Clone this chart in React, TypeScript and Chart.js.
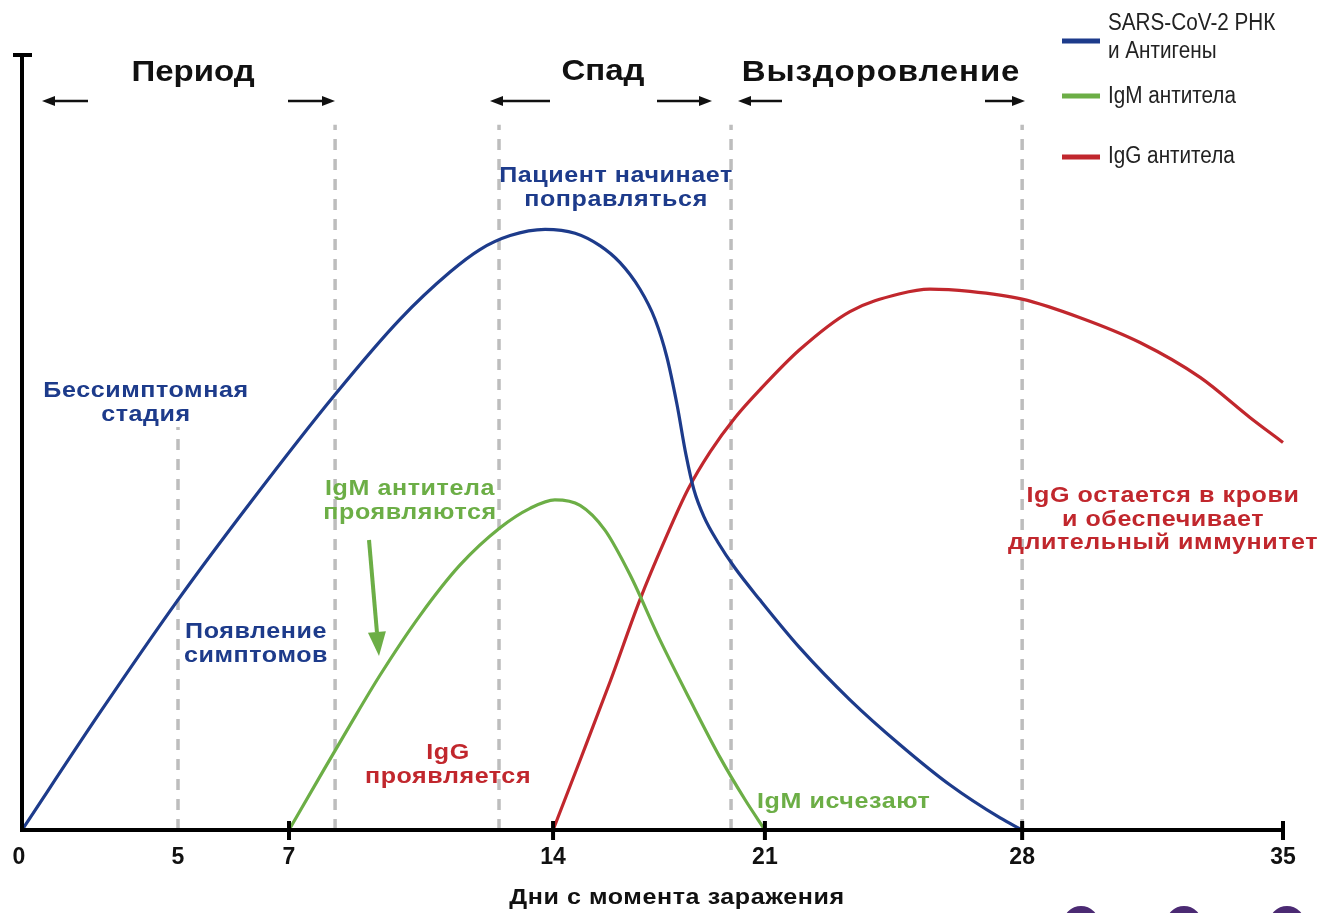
import React, { useEffect, useRef } from "react";
import { Chart, registerables } from "chart.js";

Chart.register(...registerables);

// ---- Axis ticks (schematic, non-uniform spacing) ----
const tickLabels = ["0", "5", "7", "14", "21", "28", "35"];
const tickPositions = [0, 4.33, 7.41, 14.74, 20.62, 27.76, 35];
const crossTicks = [false, false, true, true, true, true, true];

// phase boundaries (dashed lines) in axis units, and top of each line (value units)
const boundaryX = [4.33, 8.69, 13.24, 19.68, 27.76];
const boundaryTop = [52, 91, 91, 91, 91];

// ---- Series ----
const seriesNames = ["SARS-CoV-2 РНК|и Антигены", "IgM антитела", "IgG антитела"];
const seriesColors = ["#1d3b8b", "#6cae46", "#c1272d"];

const rnaX = [0, 2.17, 4.33, 6.33, 8.69, 10.49, 11.88, 12.71, 13.55, 14.52, 15.35, 16.04, 16.60, 17.15, 17.57, 17.90, 18.18, 18.43, 18.65, 18.93, 19.32, 19.79, 20.48, 21.59, 22.98, 24.37, 25.76, 27.15, 27.76];
const rnaY = [0, 15.2, 29.7, 42.2, 56.2, 65.9, 72.0, 74.9, 76.7, 77.5, 77.0, 75.4, 73.2, 69.8, 65.9, 61.0, 54.9, 48.4, 43.9, 40.4, 37.1, 33.8, 29.7, 23.5, 16.8, 11.0, 5.8, 1.55, 0];

const igmX = [7.41, 8.22, 9.10, 9.94, 11.05, 12.16, 13.27, 14.10, 14.79, 15.49, 16.18, 16.88, 17.71, 18.54, 19.37, 20.07, 20.62];
const igmY = [0, 6.5, 13.5, 20.0, 27.7, 34.2, 39.0, 41.5, 42.6, 41.9, 38.7, 32.9, 24.5, 16.8, 9.4, 3.9, 0];

const iggX = [14.74, 15.49, 16.32, 17.15, 17.85, 18.49, 19.10, 19.79, 20.48, 21.59, 22.98, 24.37, 25.20, 26.31, 27.76, 29.37, 31.03, 32.70, 34.09, 35];
const iggY = [0, 9.0, 19.1, 29.7, 37.5, 44.0, 48.8, 53.2, 56.8, 62.0, 66.9, 69.2, 69.8, 69.5, 68.5, 66.1, 62.9, 58.4, 53.2, 50.0];

const FONT = "'Liberation Sans', Arial, Helvetica, sans-serif";

function zip(xs: number[], ys: number[]) {
  return xs.map((x, i) => ({ x, y: ys[i] }));
}

function arrow(ctx: CanvasRenderingContext2D, x1: number, y1: number, x2: number, y2: number, w: number, hl: number, hw: number, color: string) {
  const ang = Math.atan2(y2 - y1, x2 - x1);
  const bx = x2 - Math.cos(ang) * hl;
  const by = y2 - Math.sin(ang) * hl;
  ctx.save();
  ctx.strokeStyle = color;
  ctx.fillStyle = color;
  ctx.lineWidth = w;
  ctx.beginPath();
  ctx.moveTo(x1, y1);
  ctx.lineTo(bx, by);
  ctx.stroke();
  ctx.beginPath();
  ctx.moveTo(x2, y2);
  ctx.lineTo(bx + Math.sin(ang) * hw, by - Math.cos(ang) * hw);
  ctx.lineTo(bx - Math.sin(ang) * hw, by + Math.cos(ang) * hw);
  ctx.closePath();
  ctx.fill();
  ctx.restore();
}

function lines(ctx: CanvasRenderingContext2D, text: string, x: number, y: number, lh: number, font: string, color: string, align: CanvasTextAlign = "center", sx = 1, spacing = "0px") {
  ctx.save();
  ctx.font = font;
  ctx.fillStyle = color;
  ctx.textAlign = align;
  ctx.textBaseline = "middle";
  (ctx as any).letterSpacing = spacing;
  ctx.translate(x, 0);
  ctx.scale(sx, 1);
  text.split("|").forEach((t, i) => ctx.fillText(t, 0, y + i * lh));
  ctx.restore();
}

const decorPlugin = {
  id: "decor",
  beforeDatasetsDraw(chart: any) {
    const ctx: CanvasRenderingContext2D = chart.ctx;
    const xs = chart.scales.x;
    const ys = chart.scales.y;
    ctx.save();
    ctx.strokeStyle = "#bdbdbd";
    ctx.lineWidth = 3.5;
    ctx.setLineDash([11, 9]);
    boundaryX.forEach((b, i) => {
      const px = xs.getPixelForValue(b);
      ctx.beginPath();
      ctx.moveTo(px, ys.getPixelForValue(0));
      ctx.lineTo(px, ys.getPixelForValue(boundaryTop[i]));
      ctx.stroke();
    });
    ctx.restore();
  },
  afterDatasetsDraw(chart: any) {
    const ctx: CanvasRenderingContext2D = chart.ctx;
    const xs = chart.scales.x;
    const { left, right, top, bottom } = chart.chartArea;

    // axes
    ctx.save();
    ctx.strokeStyle = "#000";
    ctx.lineWidth = 4;
    ctx.lineCap = "butt";
    ctx.beginPath();
    ctx.moveTo(left, bottom);
    ctx.lineTo(right, bottom);
    ctx.moveTo(left, bottom + 2);
    ctx.lineTo(left, top);
    ctx.moveTo(left - 9, top);
    ctx.lineTo(left + 10, top);
    ctx.stroke();
    tickPositions.forEach((p, i) => {
      if (!crossTicks[i]) return;
      const px = xs.getPixelForValue(p);
      ctx.beginPath();
      ctx.moveTo(px, bottom - 9);
      ctx.lineTo(px, bottom + 10);
      ctx.stroke();
    });
    ctx.restore();

    // tick labels
    tickPositions.forEach((p, i) => {
      const px = xs.getPixelForValue(p);
      lines(ctx, tickLabels[i], px + (i === 0 ? -3 : 0), bottom + 28, 0, `bold 23px ${FONT}`, "#111");
    });
    const f = `bold 22px ${FONT}`;
    const s = 1.14;
    lines(ctx, "Дни с момента заражения", 677, bottom + 68, 0, f, "#111", "center", s, "0.5px");

    // phase titles & arrows
    const pf = `bold 30px ${FONT}`;
    lines(ctx, "Период", 193, 73, 0, pf, "#111", "center", 1.1);
    lines(ctx, "Спад", 603, 72, 0, pf, "#111", "center", 1.1);
    lines(ctx, "Выздоровление", 881, 73, 0, pf, "#111", "center", 1.1, "0.8px");
    const ay = 101;
    arrow(ctx, 88, ay, 42, ay, 2.5, 13, 5, "#111");
    arrow(ctx, 288, ay, 335, ay, 2.5, 13, 5, "#111");
    arrow(ctx, 550, ay, 490, ay, 2.5, 13, 5, "#111");
    arrow(ctx, 657, ay, 712, ay, 2.5, 13, 5, "#111");
    arrow(ctx, 782, ay, 738, ay, 2.5, 13, 5, "#111");
    arrow(ctx, 985, ay, 1025, ay, 2.5, 13, 5, "#111");

    // annotations
    lines(ctx, "Бессимптомная|стадия", 146, 391, 24, f, seriesColors[0], "center", s, "0.5px");
    lines(ctx, "Появление|симптомов", 256, 632, 24, f, seriesColors[0], "center", s, "0.5px");
    lines(ctx, "Пациент начинает|поправляться", 616, 176, 24, f, seriesColors[0], "center", s, "0.5px");
    lines(ctx, "IgM антитела|проявляются", 410, 489, 24, f, seriesColors[1], "center", s, "0.5px");
    lines(ctx, "IgG|проявляется", 448, 753, 24, f, seriesColors[2], "center", s, "0.5px");
    lines(ctx, "IgM исчезают", 757, 802, 0, f, seriesColors[1], "left", s, "0.5px");
    lines(ctx, "IgG остается в крови|и обеспечивает|длительный иммунитет", 1163, 496, 23.5, f, seriesColors[2], "center", s, "0.5px");
    arrow(ctx, 369, 540, 379, 656, 4, 24, 9, seriesColors[1]);

    // legend
    const ly = [41, 96, 157];
    const ty = [24, 97, 157];
    seriesNames.forEach((n, i) => {
      ctx.save();
      ctx.strokeStyle = seriesColors[i];
      ctx.lineWidth = 5;
      ctx.beginPath();
      ctx.moveTo(1062, ly[i]);
      ctx.lineTo(1100, ly[i]);
      ctx.stroke();
      ctx.restore();
      lines(ctx, n, 1108, ty[i], 28, `23px ${FONT}`, "#222", "left", 0.9);
    });

    // decorative circles at bottom-right
    ctx.save();
    ctx.fillStyle = "#4b2a73";
    [1081, 1184, 1287].forEach((cx) => {
      ctx.beginPath();
      ctx.arc(cx, 924, 18, 0, Math.PI * 2);
      ctx.fill();
    });
    ctx.restore();
  },
};

export default function App() {
  const ref = useRef<HTMLCanvasElement | null>(null);
  useEffect(() => {
    if (!ref.current) return;
    const ds = (label: string, xs: number[], ys: number[], color: string) => ({
      label,
      data: zip(xs, ys),
      borderColor: color,
      backgroundColor: color,
      borderWidth: 3.2,
      pointRadius: 0,
      cubicInterpolationMode: "monotone" as const,
      clip: false as any,
      fill: false,
    });
    const chart = new Chart(ref.current, {
      type: "line",
      data: {
        datasets: [
          ds(seriesNames[0].replace("|", " "), rnaX, rnaY, seriesColors[0]),
          ds(seriesNames[1], igmX, igmY, seriesColors[1]),
          ds(seriesNames[2], iggX, iggY, seriesColors[2]),
        ],
      },
      options: {
        animation: false,
        responsive: false,
        layout: { padding: { left: 22, right: 36, top: 55, bottom: 83 } },
        scales: {
          x: { type: "linear", min: 0, max: 35, display: false },
          y: { type: "linear", min: 0, max: 100, display: false },
        },
        plugins: { legend: { display: false }, tooltip: { enabled: false } },
      },
      plugins: [decorPlugin],
    });
    return () => chart.destroy();
  }, []);
  return (
    <div style={{ position: "fixed", left: 0, top: 0, width: 1319, height: 913, background: "#fff" }}>
      <canvas ref={ref} width={1319} height={913} style={{ display: "block" }} />
    </div>
  );
}
